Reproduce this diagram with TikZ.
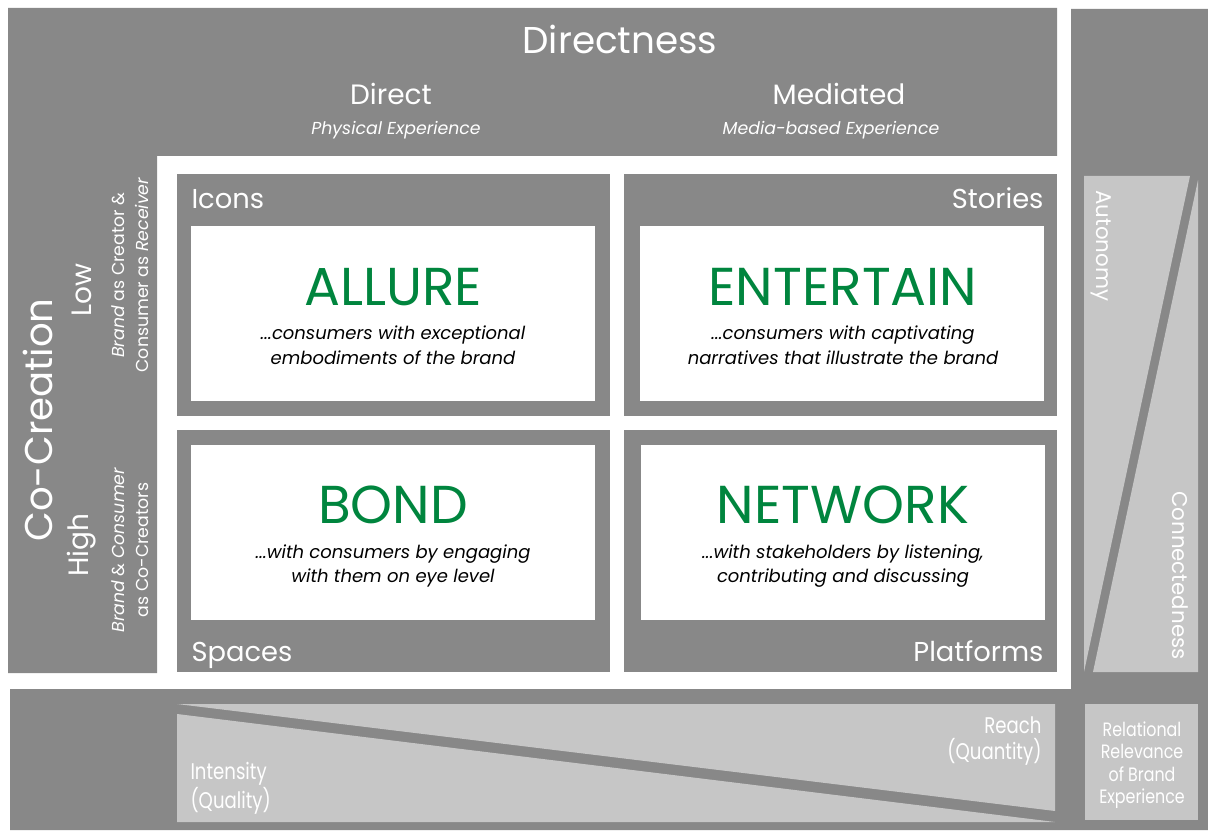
\documentclass[tikz,border=0pt]{standalone}
\usepackage{fontspec}
\setmainfont{Poppins}
\definecolor{panelgray}{RGB}{136,136,136}
\definecolor{shadegray}{RGB}{198,198,198}
\definecolor{brandgreen}{RGB}{0,133,62}

\tikzset{every picture/.style={line width=0.75pt}}
\tikzset{
  wlabel/.style={text=white, inner sep=0pt},
  title/.style={text=brandgreen, inner sep=0pt, font=\fontsize{40}{42}\selectfont},
  subline/.style={text=black, inner sep=0pt, align=center, font=\fontsize{13.5}{18.5}\selectfont\itshape},
  corner/.style={wlabel, font=\fontsize{20.5}{24}\selectfont},
  narrow/.style={wlabel, font=\fontsize{17}{19.5}\selectfont}
}

\begin{document}
\begin{tikzpicture}[x=0.75pt,y=0.75pt,yscale=-1,xscale=1]
	\useasboundingbox (0,0) rectangle (1208,831);
	\fill[white] (0,0) rectangle (1208,831);

	%Shape: Top and left panel
	\fill[panelgray] (8,8) -- (1057,8) -- (1057,156) -- (157,156) -- (157,673) -- (8,673) -- cycle;
	%Shape: Right and bottom panel
	\fill[panelgray] (1071,9) -- (1208,9) -- (1208,830) -- (10,830) -- (10,689) -- (1071,689) -- cycle;

	%Shape: Right wedges
	\fill[shadegray] (1084,176) -- (1190,176) -- (1084,672) -- cycle;
	\fill[shadegray] (1198,180) -- (1198,672) -- (1093,672) -- cycle;
	%Shape: Bottom wedges
	\fill[shadegray] (177,704) -- (1055,704) -- (1055,811) -- cycle;
	\fill[shadegray] (177,714) -- (177,822) -- (1055,822) -- cycle;
	%Shape: Relevance box
	\fill[shadegray] (1085,704) rectangle (1198,820);

	%Shape: Quadrants
	\fill[panelgray] (177,174) rectangle (610,416);
	\fill[panelgray] (624,174) rectangle (1057,416);
	\fill[panelgray] (177,430) rectangle (610,672);
	\fill[panelgray] (624,430) rectangle (1057,672);
	\fill[white] (191,226) rectangle (595,401);
	\fill[white] (640,226) rectangle (1044,401);
	\fill[white] (191,445) rectangle (595,620);
	\fill[white] (641,445) rectangle (1045,620);

	% Text Node
	\node[wlabel, font=\fontsize{28}{30}\selectfont] (directness) at (620,39) {Directness};
	% Text Node
	\node[wlabel, font=\fontsize{21}{24}\selectfont] (direct) at (391,94) {Direct};
	\node[wlabel, font=\fontsize{13}{16}\selectfont\itshape] (physical) at (396,130) {Physical Experience};
	% Text Node
	\node[wlabel, font=\fontsize{21}{24}\selectfont] (mediated) at (839,94) {Mediated};
	\node[wlabel, font=\fontsize{13}{16}\selectfont\itshape] (mediabased) at (831,130) {Media-based Experience};

	% Text Node
	\node[corner, anchor=base west] (icons) at (191,209) {Icons};
	\node[corner, anchor=base east] (stories) at (1044,209) {Stories};
	\node[corner, anchor=base west] (spaces) at (191,661) {Spaces};
	\node[corner, anchor=base east] (platforms) at (1044,661) {Platforms};

	% Text Node
	\node[title] (allure) at (393,287) {ALLURE};
	\node[subline] (allurenote) at (393,345) {...consumers with exceptional\\embodiments of the brand};
	% Text Node
	\node[title] (entertain) at (843,287) {ENTERTAIN};
	\node[subline] (entertainnote) at (843,345) {...consumers with captivating\\narratives that illustrate the brand};
	% Text Node
	\node[title] (bond) at (393,505) {BOND};
	\node[subline] (bondnote) at (393,566) {...with consumers by engaging\\with them on eye level};
	% Text Node
	\node[title] (network) at (843,505) {NETWORK};
	\node[subline] (networknote) at (843,566) {...with stakeholders by listening,\\contributing and discussing};

	% Text Node
	\node[wlabel, rotate=90, font=\fontsize{29}{32}\selectfont] (cocreation) at (38,420) {Co-Creation};
	\node[wlabel, rotate=90, font=\fontsize{21}{24}\selectfont] (low) at (82,290) {Low};
	\node[wlabel, rotate=90, font=\fontsize{21}{24}\selectfont] (high) at (82,545) {High};
	\node[wlabel, rotate=90, align=center, font=\fontsize{13}{18}\selectfont] (lowroles) at (130,275) {\textit{Brand} as Creator \&\\Consumer as \textit{Receiver}};
	\node[wlabel, rotate=90, align=center, font=\fontsize{13}{18}\selectfont] (highroles) at (130,550) {\textit{Brand} \& \textit{Consumer}\\as Co-Creators};

	% Text Node
	\node[wlabel, rotate=-90, anchor=west, font=\fontsize{16}{19}\selectfont] (autonomy) at (1101,190) {Autonomy};
	\node[wlabel, rotate=-90, anchor=east, font=\fontsize{16}{19}\selectfont] (connected) at (1180,660) {Connectedness};

	% Text Node
	\node[narrow, anchor=north east, align=right] (reach) at (1042,716) {\scalebox{0.8}[1]{Reach}\\\scalebox{0.8}[1]{(Quantity)}};
	\node[narrow, anchor=north west, align=left] (intensity) at (190,762) {\scalebox{0.8}[1]{Intensity}\\\scalebox{0.8}[1]{(Quality)}};
	\node[wlabel, align=center, font=\fontsize{14.5}{16.8}\selectfont] (relevance) at (1142,765) {\scalebox{0.82}[1]{Relational}\\\scalebox{0.82}[1]{Relevance}\\\scalebox{0.82}[1]{of Brand}\\\scalebox{0.82}[1]{Experience}};

\end{tikzpicture}
\end{document}
